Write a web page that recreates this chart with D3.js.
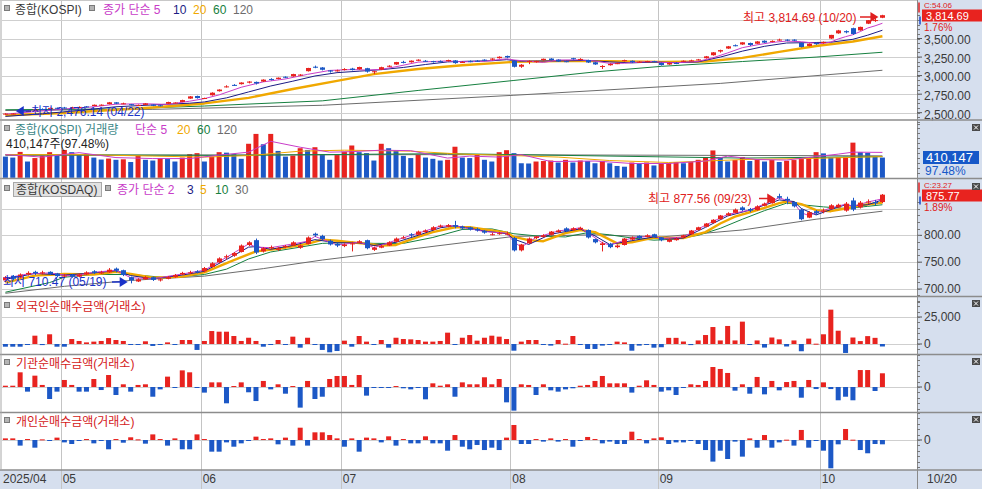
<!DOCTYPE html>
<html><head><meta charset="utf-8">
<script src="https://cdn.jsdelivr.net/npm/d3@7"></script>
<style>
body{margin:0;background:#fff;overflow:hidden}
svg{display:block}
text{font-family:"Liberation Sans","Noto Sans CJK KR",sans-serif;font-size:12px}
</style></head>
<body><svg id="c" width="982" height="489"></svg>
<script>
// ---------------- DATA ----------------
const dates = [
"04/21","04/22","04/23","04/24","04/25","04/28","04/29","04/30",
"05/02","05/07","05/08","05/09","05/12","05/13","05/14","05/15","05/16","05/19","05/20","05/21","05/22","05/23","05/26","05/27","05/28","05/29","05/30",
"06/02","06/04","06/05","06/09","06/10","06/11","06/12","06/13","06/16","06/17","06/18","06/19","06/20","06/23","06/24","06/25","06/26","06/27","06/30",
"07/01","07/02","07/03","07/04","07/07","07/08","07/09","07/10","07/11","07/14","07/15","07/16","07/17","07/18","07/21","07/22","07/23","07/24","07/25","07/28","07/29","07/30","07/31",
"08/01","08/04","08/05","08/06","08/07","08/08","08/11","08/12","08/13","08/14","08/18","08/19","08/20","08/21","08/22","08/25","08/26","08/27","08/28","08/29",
"09/01","09/02","09/03","09/04","09/05","09/08","09/09","09/10","09/11","09/12","09/15","09/16","09/17","09/18","09/19","09/22","09/23","09/24","09/25","09/26","09/29","09/30",
"10/01","10/02","10/10","10/13","10/14","10/15","10/16","10/17","10/20"];

const monthStarts = ["05/02","06/02","07/01","08/01","09/01","10/01"];
const monthLabels = ["05","06","07","08","09","10"];

// KOSPI daily OHLC
const kospiOpen = [2480,2484,2510,2520,2530,2550,2555,2566,2570,2565,2577,2585,2590,2600,2615,2640,2625,2615,2595,2605,2610,2600,2620,2630,2645,2690,2725,2690,2735,2790,2852,2875,2885,2905,2915,2920,2955,2955,2985,2990,3005,3060,3120,3110,3070,3060,3085,3095,3085,3100,3050,3080,3125,3150,3185,3180,3200,3200,3195,3195,3195,3205,3180,3195,3200,3215,3215,3235,3265,3200,3120,3190,3185,3210,3230,3215,3195,3235,3220,3210,3180,3125,3140,3160,3195,3200,3180,3190,3195,3170,3150,3170,3195,3205,3210,3235,3275,3325,3365,3410,3420,3440,3430,3470,3455,3480,3485,3485,3440,3400,3440,3440,3500,3570,3600,3640,3610,3700,3740,3780];
const kospiHigh = [2493,2494,2530,2530,2550,2558,2570,2570,2578,2580,2585,2590,2610,2612,2645,2642,2635,2618,2610,2630,2612,2605,2648,2640,2675,2725,2730,2703,2775,2815,2870,2885,2910,2925,2920,2950,2965,2975,2990,3025,3020,3105,3135,3115,3075,3080,3100,3105,3120,3105,3065,3120,3140,3185,3200,3205,3220,3210,3200,3205,3215,3210,3195,3205,3210,3220,3235,3260,3270,3205,3155,3205,3200,3230,3235,3220,3200,3240,3235,3215,3185,3140,3165,3175,3215,3205,3195,3200,3200,3175,3175,3180,3205,3215,3225,3265,3317,3350,3400,3420,3450,3445,3465,3475,3475,3498,3490,3490,3445,3435,3450,3460,3550,3617,3610,3646,3660,3750,3775,3820];
const kospiLow = [2473,2476.14,2505,2512,2527,2540,2550,2548,2555,2560,2570,2570,2588,2595,2612,2615,2615,2598,2593,2603,2588,2585,2617,2625,2642,2688,2690,2685,2730,2785,2840,2860,2880,2895,2880,2915,2935,2950,2965,2985,2995,3055,3100,3070,3040,3055,3070,3070,3080,3040,3020,3075,3115,3145,3165,3175,3195,3185,3175,3180,3190,3160,3170,3180,3185,3195,3205,3230,3235,3110,3105,3155,3175,3200,3205,3185,3180,3215,3215,3170,3145,3090,3135,3155,3190,3170,3175,3180,3180,3135,3145,3155,3185,3195,3205,3230,3270,3310,3360,3395,3415,3400,3425,3440,3450,3470,3465,3465,3380,3395,3415,3430,3495,3565,3570,3550,3605,3695,3725,3775];
const kospiClose = [2488,2489,2525,2522,2546,2548,2565,2556,2559,2573,2578,2577,2607,2608,2640,2621,2626,2603,2603,2625,2593,2592,2644,2637,2670,2720,2697,2698,2770,2812,2855,2871,2907,2920,2894,2946,2950,2972,2977,3021,3014,3103,3108,3079,3055,3071,3089,3075,3116,3054,3059,3114,3133,3183,3175,3202,3215,3192,3190,3188,3210,3169,3183,3190,3196,3209,3230,3254,3245,3119,3147,3198,3196,3227,3210,3190,3189,3224,3225,3177,3151,3130,3157,3168,3209,3179,3187,3196,3186,3142,3172,3164,3200,3205,3219,3260,3314,3344,3395,3407,3449,3413,3461,3445,3468,3486,3472,3471,3386,3431,3424,3455,3549,3610,3584,3561,3657,3748,3748.89,3814.69];

// KOSPI moving averages: [day index, value]
const kospiMA5 = [[0,2480],[4,2515],[8,2550],[12,2580],[15,2615],[19,2620],[22,2612],[25,2655],[27,2690],[29,2740],[32,2843],[35,2916],[38,2955],[41,3017],[44,3070],[47,3082],[49,3075],[51,3084],[53,3120],[56,3182],[60,3198],[62,3186],[65,3193],[68,3227],[69,3211],[71,3193],[73,3178],[75,3210],[78,3213],[80,3197],[82,3165],[84,3167],[86,3183],[88,3191],[89,3178],[91,3173],[94,3192],[96,3240],[98,3306],[100,3377],[102,3415],[104,3447],[106,3466],[108,3457],[110,3436],[111,3434],[112,3453],[113,3494],[114,3525],[115,3552],[116,3594],[117,3642],[118,3671],[119,3706]];
const kospiMA10 = [[0,2450],[5,2485],[10,2530],[15,2580],[20,2605],[25,2628],[27,2645],[30,2700],[33,2780],[36,2860],[39,2925],[42,2995],[45,3040],[48,3060],[51,3080],[54,3110],[57,3150],[60,3185],[63,3195],[66,3200],[68,3215],[70,3195],[73,3197],[76,3200],[79,3205],[82,3185],[85,3172],[88,3183],[91,3175],[94,3185],[97,3250],[100,3330],[103,3395],[106,3440],[109,3445],[112,3450],[115,3490],[117,3545],[119,3612]];
const kospiMA20 = [[0,2465],[8,2495],[15,2540],[20,2570],[27,2625],[33,2700],[39,2820],[45,2930],[50,3020],[56,3090],[62,3140],[69,3185],[75,3195],[82,3195],[89,3185],[95,3190],[100,3240],[105,3320],[110,3400],[115,3460],[119,3531]];
const kospiMA60 = [[0,2540],[15,2550],[27,2590],[43,2660],[56,2800],[69,2935],[80,3050],[89,3125],[100,3190],[110,3250],[119,3315]];
const kospiMA120 = [[0,2530],[20,2545],[43,2600],[69,2735],[97,2895],[119,3072]];

// KOSPI volume (thousand shares)
const kospiVolume = [430,410,525,330,400,450,520,465,565,520,465,480,410,370,390,365,375,320,450,365,350,400,380,330,410,480,500,330,430,520,510,480,385,690,890,680,890,545,430,450,600,565,620,465,365,465,530,655,520,500,350,690,600,545,445,400,465,410,385,350,365,630,410,400,465,365,330,520,560,500,295,290,330,340,350,310,365,310,350,340,295,340,295,240,225,310,295,310,250,295,300,320,295,320,365,420,555,420,330,360,420,340,380,330,360,320,345,360,380,400,520,495,410,420,425,713,520,505,420.768,410.147];
const volMA5 = [[0,470],[5,420],[10,510],[15,410],[20,390],[25,390],[29,460],[33,520],[36,740],[40,620],[44,520],[47,530],[51,560],[55,550],[60,400],[63,440],[67,420],[70,470],[74,330],[80,340],[85,290],[90,290],[95,340],[98,440],[102,370],[106,360],[110,430],[113,480],[115,520],[119,515]];
const volMA20 = [[0,470],[10,470],[20,440],[27,420],[33,450],[40,540],[46,560],[55,540],[62,480],[69,450],[75,420],[82,350],[90,310],[100,370],[110,395],[119,430]];
const volMA60 = [[0,470],[30,455],[60,490],[80,445],[100,400],[119,430]];
const volMA120 = [[0,455],[60,470],[119,445]];

// KOSDAQ daily OHLC
const kosdaqOpen = [716,724,721,727,732,729,732,729,723,727,723,727,733,729,731,738,735,722,714,718,722,716,719,722,727,731,733,733,741,750,759,762,769,782,791,770,778,773,778,781,777,784,803,799,790,784,780,785,786,791,773,777,781,788,795,802,801,806,810,816,816,819,816,815,812,808,801,803,803,795,772,785,795,797,801,806,813,810,811,810,793,782,784,778,782,792,799,797,802,796,788,791,796,802,810,816,823,830,837,842,852,849,847,855,860,873,868,862,848,833,845,845,849,852,846,865,852,862,862,862];
const kosdaqHigh = [724,726,729,733,734,734,733,730,728,728,729,733,735,734,739,740,736,723,720,724,723,720,724,728,732,734,735,741,750,759,764,769,783,789,794,778,781,778,782,789,783,798,805,801,792,786,785,788,791,792,779,782,789,796,799,804,809,811,817,820,821,827,818,816,814,810,805,806,807,797,784,796,799,802,808,811,815,815,816,811,794,788,786,783,795,798,800,802,803,797,794,796,801,810,816,823,830,838,843,850,854,851,856,861,871,877.56,872,863,850,845,847,850,858,859,862,870,864,867,866,877];
const kosdaqLow = [713,716,720,725,726,727,726,722,721,721,722,726,728,728,730,731,724,710.47,713,717,715,714,718,721,726,728,729,731,740,748,755,760,768,780,765,768,774,771,776,780,775,783,797,790,781,778,778,770,785,774,771,776,780,787,794,797,800,805,809,814,815,813,810,809,807,803,800,801,800,770,770,784,793,796,800,805,806,808,810,794,785,770,776,776,781,791,793,796,795,789,787,790,795,801,809,815,822,829,836,841,845,843,846,854,859,868,858,852,828,832,838,841,848,851,844,845,850,858,856,860];
const kosdaqClose = [722,719,727,730,729,731,728,724,725,723,727,731,730,731,736,734,726,716,718,722,717,718,722,726,730,731,731,739,748,757,761,767,781,787,768,776,778,776,780,787,781,796,800,793,783,781,783,785,789,776,777,780,787,794,796,800,807,809,815,818,819,816,813,811,809,805,802,804,803,772,783,794,798,800,807,809,808,813,814,796,787,785,778,781,794,796,795,800,797,791,792,794,800,809,815,822,829,837,841,848,847,846,854,859,869,870,865,854,830,843,841,846,856,857,859,848,861,863,859.49,875.77];

const kosdaqMA2 = [[0,720],[3,728],[6,730],[9,724],[12,731],[15,735],[17,721],[20,719],[24,728],[27,735],[30,759],[33,784],[34,778],[36,777],[39,784],[41,789],[42,798],[45,782],[48,787],[49,783],[50,777],[53,791],[56,804],[59,817],[61,818],[65,807],[68,804],[69,788],[70,778],[72,796],[75,808],[78,814],[79,805],[81,786],[82,782],[85,795],[88,799],[89,794],[92,797],[95,819],[98,839],[101,847],[104,864],[105,870],[107,860],[108,842],[109,837],[112,851],[114,858],[115,854],[117,862],[119,868]];
const kosdaqMA3 = [[0,718],[4,729],[8,726],[12,730],[15,734],[17,725],[20,719],[24,726],[27,733],[30,755],[33,778],[34,779],[36,774],[39,781],[42,792],[45,786],[48,786],[50,781],[53,787],[56,800],[59,814],[61,818],[65,808],[68,803],[69,793],[71,783],[74,802],[78,812],[80,799],[82,783],[85,790],[88,797],[90,793],[92,795],[95,815],[98,836],[101,847],[104,861],[105,866],[107,863],[108,850],[110,838],[112,848],[114,857],[115,855],[117,857],[119,866]];
const kosdaqMA5 = [[0,712],[4,725],[8,728],[12,727],[15,732],[17,728],[20,721],[24,723],[27,731],[31,754],[34,770],[37,775],[41,784],[43,792],[45,790],[49,784],[51,781],[53,782],[56,797],[58,806],[61,815],[63,815],[66,809],[68,805],[69,797],[71,791],[73,789],[76,804],[78,810],[80,806],[83,785],[85,787],[88,796],[90,795],[92,795],[95,806],[97,822],[99,835],[101,843],[103,851],[105,860],[106,863],[108,858],[110,847],[112,845],[114,850],[116,856],[119,861]];
const kosdaqMA10 = [[0,694],[6,712],[8,722],[12,727],[17,727],[22,721],[27,727],[30,737],[33,756],[36,769],[40,778],[43,785],[47,787],[50,785],[54,785],[58,796],[62,811],[66,812],[69,803],[72,799],[76,797],[79,805],[82,801],[85,795],[88,791],[91,793],[94,800],[97,813],[100,830],[103,846],[106,860],[108,857],[111,853],[114,850],[117,854],[119,857]];
const kosdaqMA30 = [[0,692],[8,705],[17,716],[27,724],[35,738],[43,754],[56,776],[69,798],[80,801],[89,797],[100,810],[110,830],[119,845]];

// Net buying amount (KOSPI exchange)
const foreignNet = [-2500,-2500,-2500,-300,7700,-1000,9000,-2500,-2500,4600,2800,1500,2200,2800,5500,3700,2800,-900,-900,2500,-1800,-600,1500,-900,3700,3700,-5500,2800,12000,11400,11400,7400,2800,5800,2800,-2500,-900,3700,-900,6800,-3400,5800,-900,-5500,-7700,-6500,3100,-2500,7400,2200,-900,3700,-3400,5800,4600,4300,3700,2200,2200,2800,10500,-900,5800,8300,3100,5800,7700,6800,4600,-6200,2200,3700,3700,-300,-1500,3700,300,7400,-900,-4600,-4600,-1500,-300,2200,1500,-6200,-1500,-300,-3400,-3000,5700,5700,2300,-1000,3300,8300,15700,3300,16700,3300,20700,-700,3300,-3300,6000,4300,-2300,3300,-6700,5000,300,9000,31800,12300,-8300,6000,2700,7300,5700,-2300];
const institutionNet = [1200,1200,13600,-4300,10500,1900,-11100,-4300,6500,1900,-4300,-4300,7400,-2800,11100,-7400,2500,-4300,1900,2500,-9000,-2200,9600,-300,15400,13600,-300,-5200,4300,4300,-15100,900,4300,-4900,-13000,5600,-2200,2500,-6200,900,-19100,5600,-11100,-9000,7400,10200,10200,1900,11100,-8000,-600,-600,-600,900,-1200,-2200,-600,-11400,3400,1200,2500,-9000,4300,2500,2500,9000,2500,7400,-14200,-21900,2500,1900,-7400,2500,-3100,-4300,-2200,-1200,1200,1900,5600,10200,3400,3400,3400,-5200,1200,6200,1900,-4300,-3100,-7400,-600,2500,1900,5600,18500,16700,13000,-3400,2500,-6200,9300,-6800,5600,-3100,4600,5600,-9900,6500,-1900,4300,-1900,-12300,-9000,-12300,15700,15700,-3700,12700];
const individualNet = [1500,1500,-5200,900,-7100,600,-600,2200,-2200,-3700,-600,900,-3100,-900,-8600,900,-2500,2500,600,-3400,5200,900,-5200,1500,-8600,-8600,5200,900,-10800,-10800,-2200,-6200,-3100,-900,3100,900,1500,-4000,2200,-5200,11400,-5200,7100,7100,4600,1500,-6200,1500,-10800,2200,1500,-2200,3400,-5200,900,-3100,-3100,3400,-3100,-3100,-9900,4600,-6200,-8600,-4600,-9300,-7100,-9300,2200,13900,-3700,-3700,900,-1500,1500,-1500,900,-6200,-300,2800,900,-3100,-1500,-3700,-3700,7700,900,-3100,1500,2500,-3700,-2200,-2200,-900,-3700,-9300,-20000,-9900,-17600,-1500,-15400,1500,-7100,4600,-7100,-2200,300,-5200,9300,-7100,-300,-9900,-26200,-4000,10200,300,-9300,-12300,-3700,-4000];

// axis ticks
const kospiGrid = [2500,2750,3000,3250,3500,3750];
const kospiLabels = [2500,2750,3000,3250,3500];
const kosdaqGrid = [700,750,800,850];
const kosdaqLabels = [700,750,800];
const foreignLabels = [0,25000];

// ---------------- DRAW ----------------
const svg = d3.select("#c");
const PR = 917, W = 982, H = 489;
const RED = "#e8231f", BLUE = "#1c58c6", AXBG = "#d6dfee";
const C_PINK = "#c83cc8", C_NAVY = "#1c1c84", C_ORANGE = "#f0a800", C_GREEN = "#168040", C_GRAY = "#6c6c6c";
const P = {kospi:[0,120], vol:[120,178.5], kq:[178.5,296.5], fr:[296.5,354.5], inst:[354.5,412.5], ind:[412.5,470]};

const x = d3.scaleBand().domain(dates).range([1.715, 886.1]).paddingInner(0.32).paddingOuter(0.16);
const bw = x.bandwidth();
const cx = d => x(d) + bw / 2;
const boundary = d => x(d) - (x.step() - bw) / 2;

const yKospi = d3.scaleLinear().domain([2500, 3750]).range([112.7, 20]);
const yVol = d3.scaleLinear().domain([0, 1172]).range([177.8, 120]);
const yKq = d3.scaleLinear().domain([700, 850]).range([289, 208.5]);
const yFr = d3.scaleLinear().domain([0, 25000]).range([344, 317]);
const yInst = d3.scaleLinear().domain([0, 25000]).range([387, 360]);
const yInd = d3.scaleLinear().domain([0, 25000]).range([440, 413]);

svg.append("rect").attr("width", W).attr("height", H).attr("fill", "#fff");

// clip paths
const defs = svg.append("defs");
Object.entries(P).forEach(([k, [t, b]]) => {
  defs.append("clipPath").attr("id", "clip-" + k).append("rect")
    .attr("x", 2).attr("y", t + 1).attr("width", PR - 2).attr("height", b - t - 1);
});

// right axis background and date strip
svg.append("rect").attr("x", PR).attr("y", 0).attr("width", W - PR).attr("height", H).attr("fill", AXBG);
svg.append("rect").attr("x", 0).attr("y", 470).attr("width", W).attr("height", H - 470).attr("fill", AXBG);

// vertical month grid
const gV = svg.append("g");
monthStarts.forEach(d => {
  const bx = Math.round(boundary(d)) + 0.5;
  gV.append("line").attr("x1", bx).attr("x2", bx).attr("y1", 0).attr("y2", H)
    .attr("stroke", "#c4c4c4").attr("stroke-width", 1);
});

// horizontal grid
function hgrid(vals, y) {
  vals.forEach(v => {
    const yy = Math.round(y(v)) + 0.5;
    svg.append("line").attr("x1", 2).attr("x2", PR).attr("y1", yy).attr("y2", yy)
      .attr("stroke", "#cfcfcf").attr("stroke-width", 1);
  });
}
hgrid(kospiGrid, yKospi);
hgrid(kosdaqGrid, yKq);
hgrid([0, 25000], yFr);
hgrid([0], yInst);
hgrid([0], yInd);

const line = y => d3.line().x(d => cx(dates[d[0]])).y(d => y(d[1]));

function drawMA(g, arr, y, color, w) {
  g.append("path").datum(arr).attr("d", line(y)).attr("fill", "none")
    .attr("stroke", color).attr("stroke-width", w).attr("stroke-linejoin", "round");
}

function drawCandles(g, O, Hh, L, Cc, y) {
  dates.forEach((d, i) => {
    const up = Cc[i] >= O[i];
    const col = up ? RED : BLUE;
    const xc = Math.round(cx(d)) + 0.5;
    g.append("line").attr("x1", xc).attr("x2", xc).attr("y1", y(Hh[i])).attr("y2", y(L[i]))
      .attr("stroke", col).attr("stroke-width", 1);
    const y1 = y(Math.max(O[i], Cc[i])), y2 = y(Math.min(O[i], Cc[i]));
    g.append("rect").attr("x", xc - 0.5 - Math.floor(bw / 2)).attr("width", Math.floor(bw / 2) * 2 + 1)
      .attr("y", y1).attr("height", Math.max(1, y2 - y1)).attr("fill", col);
  });
}

// ---- KOSPI panel ----
const gK = svg.append("g").attr("clip-path", "url(#clip-kospi)");
drawMA(gK, kospiMA120, yKospi, C_GRAY, 1);
drawMA(gK, kospiMA60, yKospi, C_GREEN, 1);
drawMA(gK, kospiMA20, yKospi, C_ORANGE, 2.4);
drawMA(gK, kospiMA10, yKospi, C_NAVY, 1);
drawMA(gK, kospiMA5, yKospi, C_PINK, 1);
drawCandles(gK, kospiOpen, kospiHigh, kospiLow, kospiClose, yKospi);

// ---- Volume panel ----
const gVol = svg.append("g").attr("clip-path", "url(#clip-vol)");
gVol.selectAll("rect").data(kospiVolume).join("rect")
  .attr("x", (v, i) => x(dates[i])).attr("width", bw)
  .attr("y", v => yVol(v)).attr("height", v => yVol(0) - yVol(v))
  .attr("fill", (v, i) => (i > 0 && v >= kospiVolume[i - 1]) ? RED : BLUE);
drawMA(gVol, volMA120, yVol, C_GRAY, 1);
drawMA(gVol, volMA60, yVol, C_GREEN, 1);
drawMA(gVol, volMA20, yVol, C_ORANGE, 1);
drawMA(gVol, volMA5, yVol, C_PINK, 1);

// ---- KOSDAQ panel ----
const gQ = svg.append("g").attr("clip-path", "url(#clip-kq)");
drawMA(gQ, kosdaqMA30, yKq, C_GRAY, 1);
drawMA(gQ, kosdaqMA10, yKq, C_GREEN, 1);
drawMA(gQ, kosdaqMA5, yKq, C_ORANGE, 2.4);
drawMA(gQ, kosdaqMA3, yKq, C_NAVY, 1);
drawMA(gQ, kosdaqMA2, yKq, C_PINK, 1);
drawCandles(gQ, kosdaqOpen, kosdaqHigh, kosdaqLow, kosdaqClose, yKq);

// ---- flow panels ----
function flowBars(key, arr, y) {
  const g = svg.append("g").attr("clip-path", "url(#clip-" + key + ")");
  g.selectAll("rect").data(arr).join("rect")
    .attr("x", (v, i) => x(dates[i])).attr("width", bw)
    .attr("y", v => Math.min(y(v), y(0))).attr("height", v => Math.max(1, Math.abs(y(v) - y(0))))
    .attr("fill", v => v >= 0 ? RED : BLUE);
}
flowBars("fr", foreignNet, yFr);
flowBars("inst", institutionNet, yInst);
flowBars("ind", individualNet, yInd);

// ---- legends ----
function sq(xp, yp) {
  svg.append("rect").attr("x", xp + 0.5).attr("y", yp + 0.5).attr("width", 5).attr("height", 5)
    .attr("fill", "#b4b4b4").attr("stroke", "#7a7a7a");
}
function txt(t, xp, yp, col, opts = {}) {
  const e = svg.append("text").attr("x", xp).attr("y", yp).attr("fill", col).text(t);
  if (opts.anchor) e.attr("text-anchor", opts.anchor);
  if (opts.size) e.style("font-size", opts.size + "px");
  return e;
}
sq(4, 5);
txt("종합(KOSPI)", 15, 14, "#3a3a3a");
sq(89, 5);
txt("종가 단순 5", 103, 14, C_PINK);
txt("10", 173, 14, C_NAVY);
txt("20", 193, 14, C_ORANGE);
txt("60", 213, 14, C_GREEN);
txt("120", 233, 14, C_GRAY);

sq(4, 125);
txt("종합(KOSPI) 거래량", 15, 134, "#3e8888");
txt("단순 5", 135, 134, C_PINK);
txt("20", 177, 134, C_ORANGE);
txt("60", 197, 134, C_GREEN);
txt("120", 217, 134, C_GRAY);
txt("410,147주(97.48%)", 6, 148, "#222");

sq(4, 185);
svg.append("rect").attr("x", 13.5).attr("y", 182.5).attr("width", 88).attr("height", 14)
  .attr("fill", "#e2e2e2").attr("stroke", "#a8a8a8");
txt("종합(KOSDAQ)", 16, 194, "#3a3a3a");
sq(105, 185);
txt("종가 단순 2", 117, 194, C_PINK);
txt("3", 187, 194, C_NAVY);
txt("5", 200, 194, C_ORANGE);
txt("10", 215, 194, C_GREEN);
txt("30", 235, 194, C_GRAY);

sq(4, 302); txt("외국인순매수금액(거래소)", 16, 310.5, "#d42020");
sq(4, 359); txt("기관순매수금액(거래소)", 16, 367.5, "#d42020");
sq(4, 417); txt("개인순매수금액(거래소)", 16, 425.5, "#d42020");

// ---- annotations ----
function arrowRight(x1, x2, yy, col) {
  svg.append("line").attr("x1", x1).attr("x2", x2 - 6).attr("y1", yy).attr("y2", yy).attr("stroke", col).attr("stroke-width", 1.5);
  svg.append("path").attr("d", `M${x2},${yy} L${x2 - 8},${yy - 5} L${x2 - 8},${yy + 5} Z`).attr("fill", col);
}
function arrowLeft(x1, x2, yy, col) {
  svg.append("line").attr("x1", x1 + 6).attr("x2", x2).attr("y1", yy).attr("y2", yy).attr("stroke", col).attr("stroke-width", 1.5);
  svg.append("path").attr("d", `M${x1},${yy} L${x1 + 8},${yy - 5} L${x1 + 8},${yy + 5} Z`).attr("fill", col);
}
const kHiIdx = dates.length - 1;
txt("최고 3,814.69 (10/20)", 743, 22, "#e02020");
arrowRight(860, cx(dates[kHiIdx]) - 4, 17, "#e02020");
txt("최저 2,476.14 (04/22)", 31, 116, "#1a32c8");
arrowLeft(cx(dates[1]) + 3, 31, 111, "#1a32c8");

const qHiIdx = dates.indexOf("09/23");
txt("최고 877.56 (09/23)", 648, 203, "#e02020");
arrowRight(759, cx(dates[qHiIdx]) - 4, 198.5, "#e02020");
const qLoIdx = dates.indexOf("05/19");
txt("최저 710.47 (05/19)", 3, 286, "#1a32c8");
arrowRight(112, cx(dates[qLoIdx]) - 3, 282, "#1a32c8");

// ---- right axis ----
svg.append("line").attr("x1", PR + 0.5).attr("x2", PR + 0.5).attr("y1", 0).attr("y2", H).attr("stroke", "#8a8a8a");
function axisLabels(vals, y, fmt, minorStep, range, dy) {
  vals.forEach(v => {
    const yy = y(v);
    svg.append("line").attr("x1", PR).attr("x2", PR + 5).attr("y1", yy).attr("y2", yy).attr("stroke", "#555");
    txt(fmt(v), PR + 7, yy + dy, "#3a3a3a");
  });
  if (minorStep) {
    for (let v = range[0]; v <= range[1]; v += minorStep) {
      const yy = Math.round(y(v)) + 0.5;
      svg.append("line").attr("x1", PR).attr("x2", PR + 3).attr("y1", yy).attr("y2", yy).attr("stroke", "#777");
    }
  }
}
const f2 = d3.format(",.2f"), f0 = d3.format(",");
axisLabels(kospiLabels, yKospi, f2, 62.5, [2375, 3850], 5.8);
axisLabels(kosdaqLabels, yKq, f2, 12.5, [675, 870], 4);
axisLabels(foreignLabels, yFr, f0, 5000, [-10000, 45000], 3.5);
axisLabels([0], yInst, f0, 5000, [-20000, 30000], 3.5);
axisLabels([0], yInd, f0, 5000, [-25000, 25000], 3.5);
// volume minor ticks
for (let v = 100; v <= 1100; v += 100) {
  const yy = Math.round(yVol(v)) + 0.5;
  svg.append("line").attr("x1", PR).attr("x2", PR + 3).attr("y1", yy).attr("y2", yy).attr("stroke", "#777");
}

// current value boxes
function infoBox(prevTxt, val, pct, yTop, col) {
  svg.append("line").attr("x1", PR + 2).attr("x2", PR + 2).attr("y1", yTop - 7).attr("y2", yTop + 3).attr("stroke", "#e02020").attr("stroke-width", 1.5);
  svg.append("line").attr("x1", PR + 3).attr("x2", PR + 3).attr("y1", yTop + 7).attr("y2", yTop + 15).attr("stroke", "#1a48c8").attr("stroke-width", 1.5);
  txt(prevTxt, PR + 7, yTop - 2, "#e02020").style("font-size", "8px");
  svg.append("rect").attr("x", PR + 5).attr("y", yTop).attr("width", W - PR - 5).attr("height", 12).attr("fill", col);
  txt(val, PR + 9, yTop + 10, "#fff").style("font-size", "11px");
  txt(pct, PR + 7, yTop + 21.5, "#e02020").style("font-size", "10px");
}
infoBox("C:54.06", "3,814.69", "1.76%", 9.5, "#e8231f");
infoBox("C:23.27", "875.77", "1.89%", 189.5, "#e8231f");
svg.append("rect").attr("x", PR + 6).attr("y", 151).attr("width", 56).attr("height", 13).attr("fill", "#1658c8");
txt("410,147", PR + 9, 162, "#fff").style("font-size", "13px");
txt("97.48%", PR + 8, 174.5, "#1658c8");

// close buttons
[124, 183, 300, 358, 416].forEach(yy => {
  svg.append("rect").attr("x", 972).attr("y", yy).attr("width", 8).attr("height", 7).attr("fill", "#4a4a4a");
  svg.append("path").attr("d", `M${974},${yy + 1.5} L${978},${yy + 5.5} M${978},${yy + 1.5} L${974},${yy + 5.5}`)
    .attr("stroke", "#fff").attr("stroke-width", 1);
});

// panel separators
[120, 178.5, 296.5, 354.5, 412.5, 470].forEach(yy => {
  svg.append("line").attr("x1", 0).attr("x2", W).attr("y1", yy).attr("y2", yy).attr("stroke", "#8c8c8c").attr("stroke-width", 1.6);
});
svg.append("line").attr("x1", 1).attr("x2", 1).attr("y1", 0).attr("y2", 470).attr("stroke", "#a8a8a8");
svg.append("line").attr("x1", 0).attr("x2", PR).attr("y1", 0.5).attr("y2", 0.5).attr("stroke", "#c8c8c8");

// date axis
txt("2025/04", 3, 483, "#3a3a3a");
monthStarts.forEach((d, i) => txt(monthLabels[i], boundary(d) + 2, 483, "#3a3a3a"));
txt(dates[dates.length - 1], PR + 10, 483, "#3a3a3a");
</script>
</body></html>
